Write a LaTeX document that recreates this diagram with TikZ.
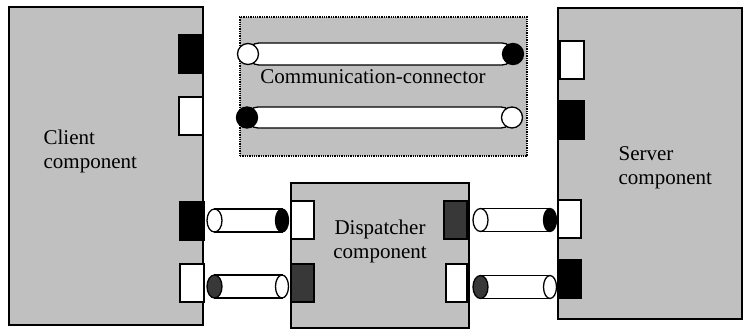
\documentclass[tikz,border=0pt]{standalone}
\usepackage{fontspec}
\setmainfont{Liberation Serif}
\definecolor{compgray}{HTML}{C0C0C0}
\definecolor{portdark}{HTML}{383838}
% horizontal cylinder: left x, right x, centre y, left face fill, right face fill
\newcommand\tubecyl[5]{%
  \draw[fill=white] (#1,{#3-11.5}) rectangle (#2,{#3+11.5});
  \draw[fill=#5] (#2,#3) ellipse [x radius=6.5, y radius=11.5];
  \draw[fill=#4] (#1,#3) ellipse [x radius=7.5, y radius=11.5];
}
\begin{document}
\begin{tikzpicture}[x=1pt,y=-1pt,line width=1.3pt,
  comp/.style={draw,fill=compgray,anchor=north west,inner sep=0pt,outer sep=0pt},
  port/.style={draw,anchor=north west,inner sep=0pt,outer sep=0pt,minimum width=24pt,minimum height=38pt},
  lbl/.style={font=\fontsize{21}{23.5}\selectfont,inner sep=0pt},
  tube/.style={draw,fill=white,rounded corners=11pt}]
\useasboundingbox (0,0) rectangle (744,329);
\fill[white] (0,0) rectangle (744,329);

% components
\node[comp,minimum width=194pt,minimum height=318pt] (client) at (9,7) {};
\node[comp,minimum width=184pt,minimum height=311pt] (server) at (558,8) {};
\node[comp,minimum width=178pt,minimum height=145pt] (disp) at (291,183) {};
\node[comp,densely dotted,minimum width=287pt,minimum height=139pt] (comm) at (240,17) {};

% labels (base anchor sits on the last line)
\node[lbl,align=left,anchor=base west] (clientlbl) at (43,168) {Client\\component};
\node[lbl,align=left,anchor=base west] (serverlbl) at (618,184) {Server\\component};
\node[lbl,align=center,anchor=base] (displbl) at (380,258) {Dispatcher\\component};
\node[lbl,anchor=base] (commlbl) at (373,83) {Communication-connector};

% ports of the client
\node[port,fill=black] (cp1) at (179,35) {};
\node[port,fill=white] (cp2) at (179,97) {};
\node[port,fill=black] (cp3) at (180,202) {};
\node[port,fill=white] (cp4) at (180,264) {};

% ports of the server
\node[port,fill=white] (sp1) at (560,41) {};
\node[port,fill=black,minimum width=26pt] (sp2) at (558,101) {};
\node[port,fill=white,minimum width=23pt] (sp3) at (558,200) {};
\node[port,fill=black,minimum width=23pt] (sp4) at (558,260) {};

% ports of the dispatcher
\node[port,fill=white,minimum width=23pt] (dp1) at (291,201) {};
\node[port,fill=portdark,minimum width=23pt] (dp2) at (291,264) {};
\node[port,fill=portdark,minimum width=23pt] (dp3) at (444,201) {};
\node[port,fill=white,minimum width=21pt] (dp4) at (446,264) {};

% communication connector tubes
\draw[tube] (248,43) rectangle (513,65);
\draw[fill=white] (248,54) circle [radius=10.5];
\draw[fill=black] (513,54) circle [radius=10.5];
\draw[tube] (247,107) rectangle (512,128);
\draw[fill=black] (247,117.5) circle [radius=10.5];
\draw[fill=white] (512,117.5) circle [radius=10.5];

% cylinders between client, dispatcher and server
\tubecyl{214.5}{282}{220.5}{white}{black}
\tubecyl{214.5}{282}{286.5}{portdark}{white}
\tubecyl{480.5}{550}{220}{white}{black}
\tubecyl{480.5}{550}{287}{portdark}{white}
\end{tikzpicture}
\end{document}
